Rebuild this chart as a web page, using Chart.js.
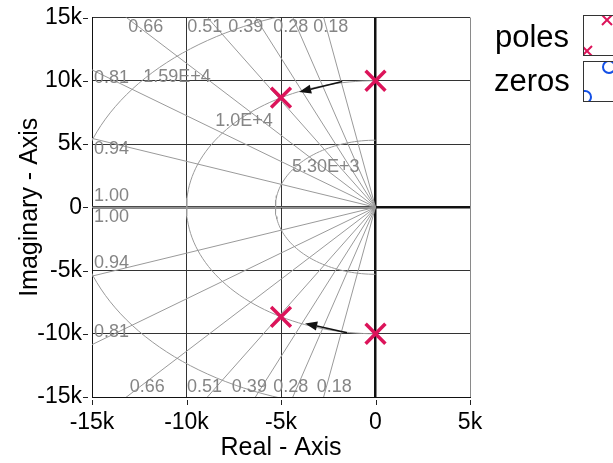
<!DOCTYPE html>
<html>
<head>
<meta charset="utf-8">
<script src="https://cdn.jsdelivr.net/npm/chart.js@4.4.1/dist/chart.umd.min.js"></script>
<style>
  html, body { margin: 0; padding: 0; background: #fff; }
  #wrap { width: 613px; height: 463px; position: relative; }
</style>
</head>
<body>
<div id="wrap"><canvas id="pz"></canvas></div>
<script>
const FONT = '"Liberation Sans", Arial, Helvetica, sans-serif';

/* ---- axis ticks ---- */
const xTicks = [-15000, -10000, -5000, 0, 5000];
const xTickLabels = ['-15k', '-10k', '-5k', '0', '5k'];
const yTicks = [-15000, -10000, -5000, 0, 5000, 10000, 15000];
const yTickLabels = ['-15k', '-10k', '-5k', '0', '5k', '10k', '15k'];

/* ---- poles (real, imag) ---- */
const poleRe = [0, 0, -5000, -5000];
const poleIm = [10000, -10000, 8660, -8660];

/* ---- s-grid: damping rays and natural frequency circles ---- */
const zetaValues = [0.18, 0.28, 0.39, 0.51, 0.66, 0.81, 0.94, 1.00];
const wnValues = [5300, 10000, 15900];

/* ---- s-grid labels ---- */
const gridLabelText = ['0.66', '0.51', '0.39', '0.28', '0.18',
                       '0.66', '0.51', '0.39', '0.28', '0.18',
                       '0.81', '0.94', '1.00', '1.00', '0.94', '0.81',
                       '1.59E+4', '1.0E+4', '5.30E+3'];
const gridLabelRe = [-13080, -9960, -7790, -5410, -3300,
                     -13000, -9980, -7600, -5410, -3110,
                     -14900, -14900, -14900, -14900, -14900, -14900,
                     -12290, -8480, -4420];
const gridLabelIm = [14230, 14230, 14230, 14230, 14230,
                     -14230, -14230, -14230, -14230, -14230,
                     10210, 4620, 920, -810, -4390, -9870,
                     10290, 6820, 3170];

/* ---- locus direction arrows ---- */
const arrowFromRe = [-1760, -1510];
const arrowFromIm = [9940, -9920];
const arrowToRe = [-4040, -3720];
const arrowToIm = [9110, -9180];

/* ---- legend ---- */
const legendLabels = ['poles', 'zeros'];

const GRID_GREY = '#9a9a9a';
const POLE_COLOR = '#DC145A';
const ZERO_COLOR = '#1450E6';

function rayPoints(z) {
  const R = 40000, s = Math.sqrt(1 - z * z);
  return [{ x: -z * R, y: s * R }, { x: 0, y: 0 }, { x: -z * R, y: -s * R }];
}

function circlePoints(wn) {
  const pts = [];
  for (let a = 90; a <= 270; a += 2) {
    const t = a * Math.PI / 180;
    pts.push({ x: wn * Math.cos(t), y: wn * Math.sin(t) });
  }
  return pts;
}

const datasets = [{
  label: 'poles',
  data: poleRe.map((re, i) => ({ x: re, y: poleIm[i] })),
  pointStyle: 'crossRot',
  pointRadius: 14,
  pointBorderWidth: 3.5,
  pointBorderColor: POLE_COLOR,
  pointBackgroundColor: POLE_COLOR,
  showLine: false,
  order: 0,
}];
zetaValues.forEach(z => datasets.push({
  data: rayPoints(z), showLine: true, borderColor: GRID_GREY, borderWidth: 1,
  pointRadius: 0, order: 2,
}));
wnValues.forEach(wn => datasets.push({
  data: circlePoints(wn), showLine: true, borderColor: GRID_GREY, borderWidth: 1,
  pointRadius: 0, order: 2,
}));

/* tick marks sit a little away from the axes */
const tickMarks = {
  id: 'tickMarks',
  afterDraw(chart) {
    const { ctx, scales: { x, y } } = chart;
    ctx.save();
    ctx.strokeStyle = '#222';
    ctx.lineWidth = 1;
    ctx.beginPath();
    yTicks.forEach(v => {
      const py = Math.round(y.getPixelForValue(v)) + 0.5;
      ctx.moveTo(83, py); ctx.lineTo(88, py);
    });
    xTicks.forEach(v => {
      const px = Math.round(x.getPixelForValue(v)) + 0.5;
      ctx.moveTo(px, 400); ctx.lineTo(px, 405);
    });
    ctx.stroke();
    ctx.restore();
  }
};

const gridText = {
  id: 'gridText',
  afterDatasetsDraw(chart) {
    const { ctx, scales: { x, y } } = chart;
    ctx.save();
    ctx.font = '18px ' + FONT;
    ctx.fillStyle = '#858585';
    ctx.textAlign = 'left';
    ctx.textBaseline = 'middle';
    gridLabelText.forEach((t, i) => {
      ctx.fillText(t, x.getPixelForValue(gridLabelRe[i]), y.getPixelForValue(gridLabelIm[i]));
    });
    ctx.restore();
  }
};

const arrows = {
  id: 'arrows',
  afterDatasetsDraw(chart) {
    const { ctx, scales: { x, y } } = chart;
    ctx.save();
    ctx.strokeStyle = '#111';
    ctx.fillStyle = '#111';
    ctx.lineWidth = 1.5;
    arrowFromRe.forEach((re, i) => {
      const x0 = x.getPixelForValue(re), y0 = y.getPixelForValue(arrowFromIm[i]);
      const x1 = x.getPixelForValue(arrowToRe[i]), y1 = y.getPixelForValue(arrowToIm[i]);
      const ang = Math.atan2(y1 - y0, x1 - x0);
      const hl = 12, hw = 4.5;
      const bx = x1 - hl * Math.cos(ang), by = y1 - hl * Math.sin(ang);
      ctx.beginPath();
      ctx.moveTo(x0, y0); ctx.lineTo(bx, by);
      ctx.stroke();
      ctx.beginPath();
      ctx.moveTo(x1, y1);
      ctx.lineTo(bx - hw * Math.sin(ang), by + hw * Math.cos(ang));
      ctx.lineTo(bx + hw * Math.sin(ang), by - hw * Math.cos(ang));
      ctx.closePath();
      ctx.fill();
    });
    ctx.restore();
  }
};

/* legend boxes on the right, cut by the canvas edge like the original */
const sideLegend = {
  id: 'sideLegend',
  afterDraw(chart) {
    const { ctx } = chart;
    ctx.save();
    ctx.font = '31px ' + FONT;
    ctx.fillStyle = '#000';
    ctx.textBaseline = 'alphabetic';
    ctx.textAlign = 'left';
    ctx.fillText(legendLabels[0], 495, 47);
    ctx.fillText(legendLabels[1], 494, 91);

    const boxes = [[583.5, 15.5], [583.5, 61.5]];
    ctx.strokeStyle = '#333';
    ctx.lineWidth = 1;
    boxes.forEach(([bx, by]) => ctx.strokeRect(bx, by, 40, 40));

    // poles sample
    ctx.save();
    ctx.beginPath(); ctx.rect(584, 16, 40, 39); ctx.clip();
    ctx.strokeStyle = POLE_COLOR; ctx.lineWidth = 2;
    [[607, 20], [587, 51]].forEach(([cx, cy]) => {
      const h = 5;
      ctx.beginPath();
      ctx.moveTo(cx - h, cy - h); ctx.lineTo(cx + h, cy + h);
      ctx.moveTo(cx - h, cy + h); ctx.lineTo(cx + h, cy - h);
      ctx.stroke();
    });
    ctx.restore();

    // zeros sample
    ctx.save();
    ctx.beginPath(); ctx.rect(584, 62, 40, 39); ctx.clip();
    ctx.strokeStyle = ZERO_COLOR; ctx.lineWidth = 2;
    [[609, 67], [585, 97]].forEach(([cx, cy]) => {
      ctx.beginPath(); ctx.arc(cx, cy, 6, 0, Math.PI * 2); ctx.stroke();
    });
    ctx.restore();
    ctx.restore();
  }
};

function gridColor(edgeGrey) {
  return c => {
    const v = c.tick && c.tick.value;
    if (v === 0) return '#111';
    if (v === edgeGrey) return '#8a8a8a';
    return '#333';
  };
}

new Chart(document.getElementById('pz'), {
  type: 'scatter',
  data: { datasets },
  options: {
    responsive: true, maintainAspectRatio: false,
    animation: false,
    layout: { padding: { left: 0, right: 143, top: 16, bottom: 0 } },
    plugins: { legend: { display: false }, tooltip: { enabled: false } },
    scales: {
      x: {
        type: 'linear', min: -15000, max: 5000,
        afterBuildTicks: s => { s.ticks = xTicks.map(v => ({ value: v })); },
        afterFit: s => { s.height = 66; s.paddingLeft = 0; s.paddingRight = 0; },
        grid: { color: gridColor(5000), lineWidth: c => (c.tick && c.tick.value === 0 ? 2.5 : 1), drawTicks: false },
        border: { display: true, color: '#111', width: 1 },
        ticks: {
          padding: 12, color: '#000', font: { family: FONT, size: 23 },
          maxRotation: 0, autoSkip: false,
          callback: v => xTickLabels[xTicks.indexOf(v)],
        },
        title: { display: true, text: 'Real - Axis', color: '#000', font: { family: FONT, size: 25 }, padding: { top: 0, bottom: 0 } },
      },
      y: {
        type: 'linear', min: -15000, max: 15000,
        afterBuildTicks: s => { s.ticks = yTicks.map(v => ({ value: v })); },
        afterFit: s => { s.width = 92; s.paddingTop = 0; s.paddingBottom = 0; },
        grid: { color: gridColor(null), lineWidth: c => (c.tick && c.tick.value === 0 ? 2.5 : 1), drawTicks: false },
        border: { display: true, color: '#111', width: 1 },
        ticks: {
          padding: 10, color: '#000', font: { family: FONT, size: 23 },
          autoSkip: false,
          callback: v => yTickLabels[yTicks.indexOf(v)],
        },
        title: { display: true, text: 'Imaginary - Axis', color: '#000', font: { family: FONT, size: 25 }, padding: { top: 15, bottom: 0 } },
      }
    }
  },
  plugins: [tickMarks, gridText, arrows, sideLegend]
});
</script>
</body>
</html>
